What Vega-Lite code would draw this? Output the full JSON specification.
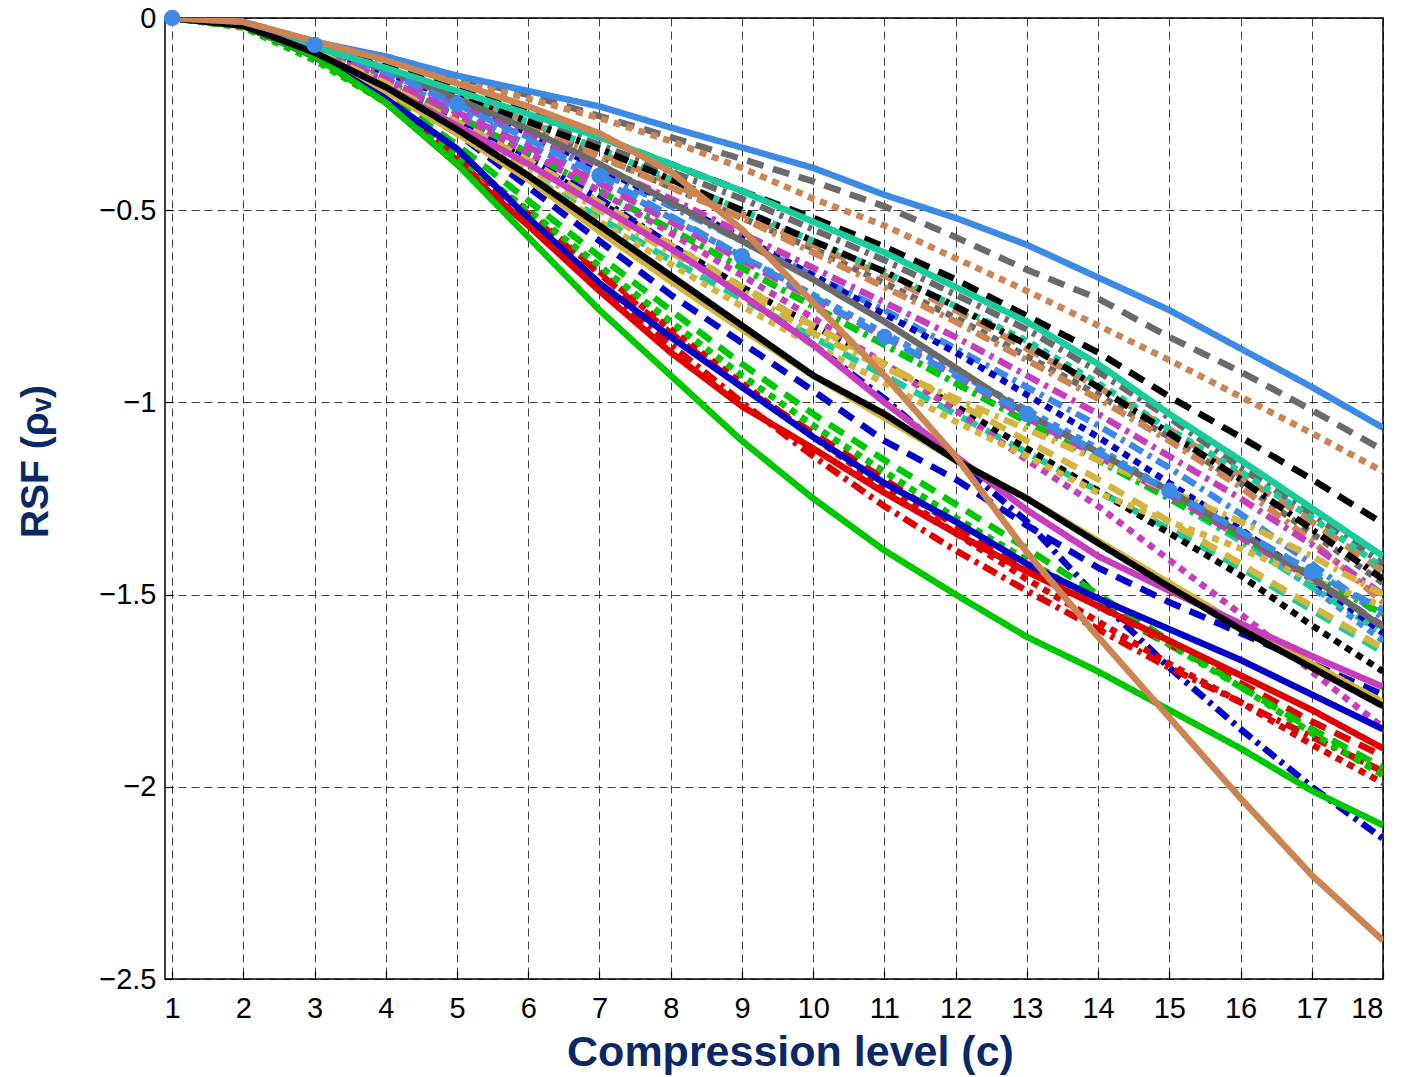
{
"$schema":"https://vega.github.io/schema/vega-lite/v6.json",
"width":1218,"height":961,
"autosize":{"type":"none"},
"padding":{"left":165,"top":18,"right":22,"bottom":98},
"background":"white",
"data":{"values":[
{"g":"m1","k":"c","c":1,"v":0},{"g":"m1","k":"c","c":2,"v":-0.02},{"g":"m1","k":"c","c":3,"v":-0.08},{"g":"m1","k":"c","c":4,"v":-0.155},{"g":"m1","k":"c","c":5,"v":-0.24},{"g":"m1","k":"c","c":6,"v":-0.33},{"g":"m1","k":"c","c":7,"v":-0.42},{"g":"m1","k":"c","c":8,"v":-0.52},{"g":"m1","k":"c","c":9,"v":-0.62},{"g":"m1","k":"c","c":10,"v":-0.72},{"g":"m1","k":"c","c":11,"v":-0.82},{"g":"m1","k":"c","c":12,"v":-0.92},{"g":"m1","k":"c","c":13,"v":-1.02},{"g":"m1","k":"c","c":14,"v":-1.12},{"g":"m1","k":"c","c":15,"v":-1.23},{"g":"m1","k":"c","c":16,"v":-1.35},{"g":"m1","k":"c","c":17,"v":-1.48},{"g":"m1","k":"c","c":18,"v":-1.62},
{"g":"m1","k":"d","c":1,"v":0},{"g":"m1","k":"d","c":2,"v":-0.015},{"g":"m1","k":"d","c":3,"v":-0.075},{"g":"m1","k":"d","c":4,"v":-0.145},{"g":"m1","k":"d","c":5,"v":-0.225},{"g":"m1","k":"d","c":6,"v":-0.31},{"g":"m1","k":"d","c":7,"v":-0.4},{"g":"m1","k":"d","c":8,"v":-0.49},{"g":"m1","k":"d","c":9,"v":-0.58},{"g":"m1","k":"d","c":10,"v":-0.67},{"g":"m1","k":"d","c":11,"v":-0.76},{"g":"m1","k":"d","c":12,"v":-0.86},{"g":"m1","k":"d","c":13,"v":-0.96},{"g":"m1","k":"d","c":14,"v":-1.06},{"g":"m1","k":"d","c":15,"v":-1.17},{"g":"m1","k":"d","c":16,"v":-1.29},{"g":"m1","k":"d","c":17,"v":-1.42},{"g":"m1","k":"d","c":18,"v":-1.56},
{"g":"m2","k":"b","c":1,"v":0},{"g":"m2","k":"b","c":2,"v":-0.012},{"g":"m2","k":"b","c":3,"v":-0.065},{"g":"m2","k":"b","c":4,"v":-0.105},{"g":"m2","k":"b","c":5,"v":-0.155},{"g":"m2","k":"b","c":6,"v":-0.2},{"g":"m2","k":"b","c":7,"v":-0.255},{"g":"m2","k":"b","c":8,"v":-0.31},{"g":"m2","k":"b","c":9,"v":-0.367},{"g":"m2","k":"b","c":10,"v":-0.425},{"g":"m2","k":"b","c":11,"v":-0.49},{"g":"m2","k":"b","c":12,"v":-0.57},{"g":"m2","k":"b","c":13,"v":-0.655},{"g":"m2","k":"b","c":14,"v":-0.73},{"g":"m2","k":"b","c":15,"v":-0.83},{"g":"m2","k":"b","c":16,"v":-0.92},{"g":"m2","k":"b","c":17,"v":-1.02},{"g":"m2","k":"b","c":18,"v":-1.124},
{"g":"m2","k":"c","c":1,"v":0},{"g":"m2","k":"c","c":2,"v":-0.015},{"g":"m2","k":"c","c":3,"v":-0.08},{"g":"m2","k":"c","c":4,"v":-0.14},{"g":"m2","k":"c","c":5,"v":-0.21},{"g":"m2","k":"c","c":6,"v":-0.28},{"g":"m2","k":"c","c":7,"v":-0.36},{"g":"m2","k":"c","c":8,"v":-0.44},{"g":"m2","k":"c","c":9,"v":-0.52},{"g":"m2","k":"c","c":10,"v":-0.6},{"g":"m2","k":"c","c":11,"v":-0.69},{"g":"m2","k":"c","c":12,"v":-0.78},{"g":"m2","k":"c","c":13,"v":-0.88},{"g":"m2","k":"c","c":14,"v":-0.98},{"g":"m2","k":"c","c":15,"v":-1.09},{"g":"m2","k":"c","c":16,"v":-1.21},{"g":"m2","k":"c","c":17,"v":-1.34},{"g":"m2","k":"c","c":18,"v":-1.47},
{"g":"m2","k":"d","c":1,"v":0},{"g":"m2","k":"d","c":2,"v":-0.015},{"g":"m2","k":"d","c":3,"v":-0.075},{"g":"m2","k":"d","c":4,"v":-0.13},{"g":"m2","k":"d","c":5,"v":-0.2},{"g":"m2","k":"d","c":6,"v":-0.26},{"g":"m2","k":"d","c":7,"v":-0.33},{"g":"m2","k":"d","c":8,"v":-0.4},{"g":"m2","k":"d","c":9,"v":-0.47},{"g":"m2","k":"d","c":10,"v":-0.55},{"g":"m2","k":"d","c":11,"v":-0.63},{"g":"m2","k":"d","c":12,"v":-0.72},{"g":"m2","k":"d","c":13,"v":-0.81},{"g":"m2","k":"d","c":14,"v":-0.92},{"g":"m2","k":"d","c":15,"v":-1.04},{"g":"m2","k":"d","c":16,"v":-1.17},{"g":"m2","k":"d","c":17,"v":-1.29},{"g":"m2","k":"d","c":18,"v":-1.42},
{"g":"m3","k":"b","c":1,"v":0},{"g":"m3","k":"b","c":2,"v":-0.015},{"g":"m3","k":"b","c":3,"v":-0.075},{"g":"m3","k":"b","c":4,"v":-0.135},{"g":"m3","k":"b","c":5,"v":-0.2},{"g":"m3","k":"b","c":6,"v":-0.27},{"g":"m3","k":"b","c":7,"v":-0.35},{"g":"m3","k":"b","c":8,"v":-0.43},{"g":"m3","k":"b","c":9,"v":-0.51},{"g":"m3","k":"b","c":10,"v":-0.59},{"g":"m3","k":"b","c":11,"v":-0.67},{"g":"m3","k":"b","c":12,"v":-0.76},{"g":"m3","k":"b","c":13,"v":-0.86},{"g":"m3","k":"b","c":14,"v":-0.96},{"g":"m3","k":"b","c":15,"v":-1.07},{"g":"m3","k":"b","c":16,"v":-1.19},{"g":"m3","k":"b","c":17,"v":-1.31},{"g":"m3","k":"b","c":18,"v":-1.44},
{"g":"m3","k":"c","c":1,"v":0},{"g":"m3","k":"c","c":2,"v":-0.012},{"g":"m3","k":"c","c":3,"v":-0.065},{"g":"m3","k":"c","c":4,"v":-0.11},{"g":"m3","k":"c","c":5,"v":-0.16},{"g":"m3","k":"c","c":6,"v":-0.21},{"g":"m3","k":"c","c":7,"v":-0.26},{"g":"m3","k":"c","c":8,"v":-0.32},{"g":"m3","k":"c","c":9,"v":-0.39},{"g":"m3","k":"c","c":10,"v":-0.47},{"g":"m3","k":"c","c":11,"v":-0.54},{"g":"m3","k":"c","c":12,"v":-0.625},{"g":"m3","k":"c","c":13,"v":-0.71},{"g":"m3","k":"c","c":14,"v":-0.8},{"g":"m3","k":"c","c":15,"v":-0.89},{"g":"m3","k":"c","c":16,"v":-0.985},{"g":"m3","k":"c","c":17,"v":-1.08},{"g":"m3","k":"c","c":18,"v":-1.18},
{"g":"m3","k":"d","c":1,"v":0},{"g":"m3","k":"d","c":2,"v":-0.015},{"g":"m3","k":"d","c":3,"v":-0.08},{"g":"m3","k":"d","c":4,"v":-0.14},{"g":"m3","k":"d","c":5,"v":-0.21},{"g":"m3","k":"d","c":6,"v":-0.28},{"g":"m3","k":"d","c":7,"v":-0.36},{"g":"m3","k":"d","c":8,"v":-0.44},{"g":"m3","k":"d","c":9,"v":-0.52},{"g":"m3","k":"d","c":10,"v":-0.61},{"g":"m3","k":"d","c":11,"v":-0.7},{"g":"m3","k":"d","c":12,"v":-0.79},{"g":"m3","k":"d","c":13,"v":-0.89},{"g":"m3","k":"d","c":14,"v":-0.99},{"g":"m3","k":"d","c":15,"v":-1.1},{"g":"m3","k":"d","c":16,"v":-1.22},{"g":"m3","k":"d","c":17,"v":-1.36},{"g":"m3","k":"d","c":18,"v":-1.52},
{"g":"m4","k":"b","c":1,"v":0},{"g":"m4","k":"b","c":2,"v":-0.02},{"g":"m4","k":"b","c":3,"v":-0.09},{"g":"m4","k":"b","c":4,"v":-0.19},{"g":"m4","k":"b","c":5,"v":-0.3},{"g":"m4","k":"b","c":6,"v":-0.41},{"g":"m4","k":"b","c":7,"v":-0.52},{"g":"m4","k":"b","c":8,"v":-0.63},{"g":"m4","k":"b","c":9,"v":-0.73},{"g":"m4","k":"b","c":10,"v":-0.83},{"g":"m4","k":"b","c":11,"v":-0.93},{"g":"m4","k":"b","c":12,"v":-1.03},{"g":"m4","k":"b","c":13,"v":-1.13},{"g":"m4","k":"b","c":14,"v":-1.23},{"g":"m4","k":"b","c":15,"v":-1.33},{"g":"m4","k":"b","c":16,"v":-1.43},{"g":"m4","k":"b","c":17,"v":-1.54},{"g":"m4","k":"b","c":18,"v":-1.65},
{"g":"m4","k":"c","c":1,"v":0},{"g":"m4","k":"c","c":2,"v":-0.015},{"g":"m4","k":"c","c":3,"v":-0.075},{"g":"m4","k":"c","c":4,"v":-0.135},{"g":"m4","k":"c","c":5,"v":-0.2},{"g":"m4","k":"c","c":6,"v":-0.27},{"g":"m4","k":"c","c":7,"v":-0.34},{"g":"m4","k":"c","c":8,"v":-0.42},{"g":"m4","k":"c","c":9,"v":-0.5},{"g":"m4","k":"c","c":10,"v":-0.58},{"g":"m4","k":"c","c":11,"v":-0.66},{"g":"m4","k":"c","c":12,"v":-0.75},{"g":"m4","k":"c","c":13,"v":-0.84},{"g":"m4","k":"c","c":14,"v":-0.95},{"g":"m4","k":"c","c":15,"v":-1.07},{"g":"m4","k":"c","c":16,"v":-1.18},{"g":"m4","k":"c","c":17,"v":-1.3},{"g":"m4","k":"c","c":18,"v":-1.43},
{"g":"m4","k":"d","c":1,"v":0},{"g":"m4","k":"d","c":2,"v":-0.02},{"g":"m4","k":"d","c":3,"v":-0.085},{"g":"m4","k":"d","c":4,"v":-0.165},{"g":"m4","k":"d","c":5,"v":-0.255},{"g":"m4","k":"d","c":6,"v":-0.35},{"g":"m4","k":"d","c":7,"v":-0.45},{"g":"m4","k":"d","c":8,"v":-0.55},{"g":"m4","k":"d","c":9,"v":-0.65},{"g":"m4","k":"d","c":10,"v":-0.75},{"g":"m4","k":"d","c":11,"v":-0.85},{"g":"m4","k":"d","c":12,"v":-0.95},{"g":"m4","k":"d","c":13,"v":-1.05},{"g":"m4","k":"d","c":14,"v":-1.15},{"g":"m4","k":"d","c":15,"v":-1.25},{"g":"m4","k":"d","c":16,"v":-1.36},{"g":"m4","k":"d","c":17,"v":-1.48},{"g":"m4","k":"d","c":18,"v":-1.6},
{"g":"m5","k":"b","c":1,"v":0},{"g":"m5","k":"b","c":2,"v":-0.015},{"g":"m5","k":"b","c":3,"v":-0.07},{"g":"m5","k":"b","c":4,"v":-0.12},{"g":"m5","k":"b","c":5,"v":-0.18},{"g":"m5","k":"b","c":6,"v":-0.24},{"g":"m5","k":"b","c":7,"v":-0.31},{"g":"m5","k":"b","c":8,"v":-0.38},{"g":"m5","k":"b","c":9,"v":-0.45},{"g":"m5","k":"b","c":10,"v":-0.52},{"g":"m5","k":"b","c":11,"v":-0.595},{"g":"m5","k":"b","c":12,"v":-0.68},{"g":"m5","k":"b","c":13,"v":-0.775},{"g":"m5","k":"b","c":14,"v":-0.87},{"g":"m5","k":"b","c":15,"v":-0.985},{"g":"m5","k":"b","c":16,"v":-1.09},{"g":"m5","k":"b","c":17,"v":-1.2},{"g":"m5","k":"b","c":18,"v":-1.315},
{"g":"m5","k":"c","c":1,"v":0},{"g":"m5","k":"c","c":2,"v":-0.02},{"g":"m5","k":"c","c":3,"v":-0.09},{"g":"m5","k":"c","c":4,"v":-0.17},{"g":"m5","k":"c","c":5,"v":-0.265},{"g":"m5","k":"c","c":6,"v":-0.37},{"g":"m5","k":"c","c":7,"v":-0.48},{"g":"m5","k":"c","c":8,"v":-0.59},{"g":"m5","k":"c","c":9,"v":-0.7},{"g":"m5","k":"c","c":10,"v":-0.8},{"g":"m5","k":"c","c":11,"v":-0.9},{"g":"m5","k":"c","c":12,"v":-1.01},{"g":"m5","k":"c","c":13,"v":-1.12},{"g":"m5","k":"c","c":14,"v":-1.23},{"g":"m5","k":"c","c":15,"v":-1.34},{"g":"m5","k":"c","c":16,"v":-1.45},{"g":"m5","k":"c","c":17,"v":-1.58},{"g":"m5","k":"c","c":18,"v":-1.7},
{"g":"m5","k":"d","c":1,"v":0},{"g":"m5","k":"d","c":2,"v":-0.015},{"g":"m5","k":"d","c":3,"v":-0.075},{"g":"m5","k":"d","c":4,"v":-0.135},{"g":"m5","k":"d","c":5,"v":-0.2},{"g":"m5","k":"d","c":6,"v":-0.27},{"g":"m5","k":"d","c":7,"v":-0.34},{"g":"m5","k":"d","c":8,"v":-0.42},{"g":"m5","k":"d","c":9,"v":-0.5},{"g":"m5","k":"d","c":10,"v":-0.58},{"g":"m5","k":"d","c":11,"v":-0.66},{"g":"m5","k":"d","c":12,"v":-0.75},{"g":"m5","k":"d","c":13,"v":-0.85},{"g":"m5","k":"d","c":14,"v":-0.96},{"g":"m5","k":"d","c":15,"v":-1.08},{"g":"m5","k":"d","c":16,"v":-1.2},{"g":"m5","k":"d","c":17,"v":-1.33},{"g":"m5","k":"d","c":18,"v":-1.46},
{"g":"m6","k":"b","c":1,"v":0},{"g":"m6","k":"b","c":2,"v":-0.02},{"g":"m6","k":"b","c":3,"v":-0.095},{"g":"m6","k":"b","c":4,"v":-0.19},{"g":"m6","k":"b","c":5,"v":-0.3},{"g":"m6","k":"b","c":6,"v":-0.44},{"g":"m6","k":"b","c":7,"v":-0.58},{"g":"m6","k":"b","c":8,"v":-0.72},{"g":"m6","k":"b","c":9,"v":-0.845},{"g":"m6","k":"b","c":10,"v":-0.97},{"g":"m6","k":"b","c":11,"v":-1.1},{"g":"m6","k":"b","c":12,"v":-1.2},{"g":"m6","k":"b","c":13,"v":-1.32},{"g":"m6","k":"b","c":14,"v":-1.43},{"g":"m6","k":"b","c":15,"v":-1.52},{"g":"m6","k":"b","c":16,"v":-1.6},{"g":"m6","k":"b","c":17,"v":-1.68},{"g":"m6","k":"b","c":18,"v":-1.76},
{"g":"m6","k":"c","c":1,"v":0},{"g":"m6","k":"c","c":2,"v":-0.015},{"g":"m6","k":"c","c":3,"v":-0.075},{"g":"m6","k":"c","c":4,"v":-0.14},{"g":"m6","k":"c","c":5,"v":-0.215},{"g":"m6","k":"c","c":6,"v":-0.3},{"g":"m6","k":"c","c":7,"v":-0.39},{"g":"m6","k":"c","c":8,"v":-0.48},{"g":"m6","k":"c","c":9,"v":-0.57},{"g":"m6","k":"c","c":10,"v":-0.67},{"g":"m6","k":"c","c":11,"v":-0.77},{"g":"m6","k":"c","c":12,"v":-0.87},{"g":"m6","k":"c","c":13,"v":-0.98},{"g":"m6","k":"c","c":14,"v":-1.09},{"g":"m6","k":"c","c":15,"v":-1.21},{"g":"m6","k":"c","c":16,"v":-1.33},{"g":"m6","k":"c","c":17,"v":-1.46},{"g":"m6","k":"c","c":18,"v":-1.6},
{"g":"m6","k":"d","c":1,"v":0},{"g":"m6","k":"d","c":2,"v":-0.02},{"g":"m6","k":"d","c":3,"v":-0.09},{"g":"m6","k":"d","c":4,"v":-0.17},{"g":"m6","k":"d","c":5,"v":-0.26},{"g":"m6","k":"d","c":6,"v":-0.36},{"g":"m6","k":"d","c":7,"v":-0.47},{"g":"m6","k":"d","c":8,"v":-0.59},{"g":"m6","k":"d","c":9,"v":-0.72},{"g":"m6","k":"d","c":10,"v":-0.85},{"g":"m6","k":"d","c":11,"v":-0.99},{"g":"m6","k":"d","c":12,"v":-1.15},{"g":"m6","k":"d","c":13,"v":-1.31},{"g":"m6","k":"d","c":14,"v":-1.51},{"g":"m6","k":"d","c":15,"v":-1.69},{"g":"m6","k":"d","c":16,"v":-1.85},{"g":"m6","k":"d","c":17,"v":-2.0},{"g":"m6","k":"d","c":18,"v":-2.135},
{"g":"m7","k":"b","c":1,"v":0},{"g":"m7","k":"b","c":2,"v":-0.02},{"g":"m7","k":"b","c":3,"v":-0.1},{"g":"m7","k":"b","c":4,"v":-0.21},{"g":"m7","k":"b","c":5,"v":-0.36},{"g":"m7","k":"b","c":6,"v":-0.51},{"g":"m7","k":"b","c":7,"v":-0.665},{"g":"m7","k":"b","c":8,"v":-0.82},{"g":"m7","k":"b","c":9,"v":-0.96},{"g":"m7","k":"b","c":10,"v":-1.08},{"g":"m7","k":"b","c":11,"v":-1.2},{"g":"m7","k":"b","c":12,"v":-1.32},{"g":"m7","k":"b","c":13,"v":-1.43},{"g":"m7","k":"b","c":14,"v":-1.53},{"g":"m7","k":"b","c":15,"v":-1.63},{"g":"m7","k":"b","c":16,"v":-1.73},{"g":"m7","k":"b","c":17,"v":-1.83},{"g":"m7","k":"b","c":18,"v":-1.92},
{"g":"m7","k":"c","c":1,"v":0},{"g":"m7","k":"c","c":2,"v":-0.02},{"g":"m7","k":"c","c":3,"v":-0.1},{"g":"m7","k":"c","c":4,"v":-0.21},{"g":"m7","k":"c","c":5,"v":-0.355},{"g":"m7","k":"c","c":6,"v":-0.505},{"g":"m7","k":"c","c":7,"v":-0.66},{"g":"m7","k":"c","c":8,"v":-0.81},{"g":"m7","k":"c","c":9,"v":-0.95},{"g":"m7","k":"c","c":10,"v":-1.09},{"g":"m7","k":"c","c":11,"v":-1.22},{"g":"m7","k":"c","c":12,"v":-1.34},{"g":"m7","k":"c","c":13,"v":-1.46},{"g":"m7","k":"c","c":14,"v":-1.57},{"g":"m7","k":"c","c":15,"v":-1.68},{"g":"m7","k":"c","c":16,"v":-1.78},{"g":"m7","k":"c","c":17,"v":-1.89},{"g":"m7","k":"c","c":18,"v":-1.99},
{"g":"m7","k":"d","c":1,"v":0},{"g":"m7","k":"d","c":2,"v":-0.02},{"g":"m7","k":"d","c":3,"v":-0.1},{"g":"m7","k":"d","c":4,"v":-0.215},{"g":"m7","k":"d","c":5,"v":-0.37},{"g":"m7","k":"d","c":6,"v":-0.53},{"g":"m7","k":"d","c":7,"v":-0.69},{"g":"m7","k":"d","c":8,"v":-0.85},{"g":"m7","k":"d","c":9,"v":-1.0},{"g":"m7","k":"d","c":10,"v":-1.14},{"g":"m7","k":"d","c":11,"v":-1.27},{"g":"m7","k":"d","c":12,"v":-1.385},{"g":"m7","k":"d","c":13,"v":-1.49},{"g":"m7","k":"d","c":14,"v":-1.59},{"g":"m7","k":"d","c":15,"v":-1.69},{"g":"m7","k":"d","c":16,"v":-1.78},{"g":"m7","k":"d","c":17,"v":-1.87},{"g":"m7","k":"d","c":18,"v":-1.96},
{"g":"m8","k":"b","c":1,"v":0},{"g":"m8","k":"b","c":2,"v":-0.02},{"g":"m8","k":"b","c":3,"v":-0.095},{"g":"m8","k":"b","c":4,"v":-0.2},{"g":"m8","k":"b","c":5,"v":-0.33},{"g":"m8","k":"b","c":6,"v":-0.475},{"g":"m8","k":"b","c":7,"v":-0.62},{"g":"m8","k":"b","c":8,"v":-0.76},{"g":"m8","k":"b","c":9,"v":-0.9},{"g":"m8","k":"b","c":10,"v":-1.03},{"g":"m8","k":"b","c":11,"v":-1.15},{"g":"m8","k":"b","c":12,"v":-1.265},{"g":"m8","k":"b","c":13,"v":-1.38},{"g":"m8","k":"b","c":14,"v":-1.5},{"g":"m8","k":"b","c":15,"v":-1.62},{"g":"m8","k":"b","c":16,"v":-1.74},{"g":"m8","k":"b","c":17,"v":-1.85},{"g":"m8","k":"b","c":18,"v":-1.95},
{"g":"m8","k":"c","c":1,"v":0},{"g":"m8","k":"c","c":2,"v":-0.025},{"g":"m8","k":"c","c":3,"v":-0.11},{"g":"m8","k":"c","c":4,"v":-0.22},{"g":"m8","k":"c","c":5,"v":-0.36},{"g":"m8","k":"c","c":6,"v":-0.5},{"g":"m8","k":"c","c":7,"v":-0.645},{"g":"m8","k":"c","c":8,"v":-0.79},{"g":"m8","k":"c","c":9,"v":-0.93},{"g":"m8","k":"c","c":10,"v":-1.06},{"g":"m8","k":"c","c":11,"v":-1.18},{"g":"m8","k":"c","c":12,"v":-1.3},{"g":"m8","k":"c","c":13,"v":-1.41},{"g":"m8","k":"c","c":14,"v":-1.52},{"g":"m8","k":"c","c":15,"v":-1.63},{"g":"m8","k":"c","c":16,"v":-1.74},{"g":"m8","k":"c","c":17,"v":-1.86},{"g":"m8","k":"c","c":18,"v":-1.97},
{"g":"m8","k":"d","c":1,"v":0},{"g":"m8","k":"d","c":2,"v":-0.02},{"g":"m8","k":"d","c":3,"v":-0.085},{"g":"m8","k":"d","c":4,"v":-0.165},{"g":"m8","k":"d","c":5,"v":-0.255},{"g":"m8","k":"d","c":6,"v":-0.35},{"g":"m8","k":"d","c":7,"v":-0.45},{"g":"m8","k":"d","c":8,"v":-0.55},{"g":"m8","k":"d","c":9,"v":-0.65},{"g":"m8","k":"d","c":10,"v":-0.75},{"g":"m8","k":"d","c":11,"v":-0.85},{"g":"m8","k":"d","c":12,"v":-0.95},{"g":"m8","k":"d","c":13,"v":-1.05},{"g":"m8","k":"d","c":14,"v":-1.15},{"g":"m8","k":"d","c":15,"v":-1.25},{"g":"m8","k":"d","c":16,"v":-1.35},{"g":"m8","k":"d","c":17,"v":-1.45},{"g":"m8","k":"d","c":18,"v":-1.55},
{"g":"m9","k":"b","c":1,"v":0},{"g":"m9","k":"b","c":2,"v":-0.02},{"g":"m9","k":"b","c":3,"v":-0.085},{"g":"m9","k":"b","c":4,"v":-0.16},{"g":"m9","k":"b","c":5,"v":-0.245},{"g":"m9","k":"b","c":6,"v":-0.335},{"g":"m9","k":"b","c":7,"v":-0.43},{"g":"m9","k":"b","c":8,"v":-0.53},{"g":"m9","k":"b","c":9,"v":-0.63},{"g":"m9","k":"b","c":10,"v":-0.73},{"g":"m9","k":"b","c":11,"v":-0.83},{"g":"m9","k":"b","c":12,"v":-0.93},{"g":"m9","k":"b","c":13,"v":-1.04},{"g":"m9","k":"b","c":14,"v":-1.14},{"g":"m9","k":"b","c":15,"v":-1.24},{"g":"m9","k":"b","c":16,"v":-1.35},{"g":"m9","k":"b","c":17,"v":-1.46},{"g":"m9","k":"b","c":18,"v":-1.58},
{"g":"m9","k":"c","c":1,"v":0},{"g":"m9","k":"c","c":2,"v":-0.02},{"g":"m9","k":"c","c":3,"v":-0.085},{"g":"m9","k":"c","c":4,"v":-0.165},{"g":"m9","k":"c","c":5,"v":-0.255},{"g":"m9","k":"c","c":6,"v":-0.35},{"g":"m9","k":"c","c":7,"v":-0.45},{"g":"m9","k":"c","c":8,"v":-0.56},{"g":"m9","k":"c","c":9,"v":-0.67},{"g":"m9","k":"c","c":10,"v":-0.78},{"g":"m9","k":"c","c":11,"v":-0.9},{"g":"m9","k":"c","c":12,"v":-1.02},{"g":"m9","k":"c","c":13,"v":-1.15},{"g":"m9","k":"c","c":14,"v":-1.27},{"g":"m9","k":"c","c":15,"v":-1.41},{"g":"m9","k":"c","c":16,"v":-1.55},{"g":"m9","k":"c","c":17,"v":-1.7},{"g":"m9","k":"c","c":18,"v":-1.845},
{"g":"m9","k":"d","c":1,"v":0},{"g":"m9","k":"d","c":2,"v":-0.015},{"g":"m9","k":"d","c":3,"v":-0.08},{"g":"m9","k":"d","c":4,"v":-0.145},{"g":"m9","k":"d","c":5,"v":-0.22},{"g":"m9","k":"d","c":6,"v":-0.3},{"g":"m9","k":"d","c":7,"v":-0.385},{"g":"m9","k":"d","c":8,"v":-0.47},{"g":"m9","k":"d","c":9,"v":-0.56},{"g":"m9","k":"d","c":10,"v":-0.65},{"g":"m9","k":"d","c":11,"v":-0.74},{"g":"m9","k":"d","c":12,"v":-0.83},{"g":"m9","k":"d","c":13,"v":-0.93},{"g":"m9","k":"d","c":14,"v":-1.03},{"g":"m9","k":"d","c":15,"v":-1.14},{"g":"m9","k":"d","c":16,"v":-1.25},{"g":"m9","k":"d","c":17,"v":-1.37},{"g":"m9","k":"d","c":18,"v":-1.5},
{"g":"m10","k":"b","c":1,"v":0},{"g":"m10","k":"b","c":2,"v":-0.02},{"g":"m10","k":"b","c":3,"v":-0.09},{"g":"m10","k":"b","c":4,"v":-0.175},{"g":"m10","k":"b","c":5,"v":-0.27},{"g":"m10","k":"b","c":6,"v":-0.37},{"g":"m10","k":"b","c":7,"v":-0.48},{"g":"m10","k":"b","c":8,"v":-0.59},{"g":"m10","k":"b","c":9,"v":-0.7},{"g":"m10","k":"b","c":10,"v":-0.8},{"g":"m10","k":"b","c":11,"v":-0.9},{"g":"m10","k":"b","c":12,"v":-1.0},{"g":"m10","k":"b","c":13,"v":-1.1},{"g":"m10","k":"b","c":14,"v":-1.2},{"g":"m10","k":"b","c":15,"v":-1.31},{"g":"m10","k":"b","c":16,"v":-1.42},{"g":"m10","k":"b","c":17,"v":-1.53},{"g":"m10","k":"b","c":18,"v":-1.64},
{"g":"m10","k":"c","c":1,"v":0},{"g":"m10","k":"c","c":2,"v":-0.02},{"g":"m10","k":"c","c":3,"v":-0.09},{"g":"m10","k":"c","c":4,"v":-0.18},{"g":"m10","k":"c","c":5,"v":-0.29},{"g":"m10","k":"c","c":6,"v":-0.41},{"g":"m10","k":"c","c":7,"v":-0.53},{"g":"m10","k":"c","c":8,"v":-0.64},{"g":"m10","k":"c","c":9,"v":-0.75},{"g":"m10","k":"c","c":10,"v":-0.85},{"g":"m10","k":"c","c":11,"v":-0.95},{"g":"m10","k":"c","c":12,"v":-1.05},{"g":"m10","k":"c","c":13,"v":-1.14},{"g":"m10","k":"c","c":14,"v":-1.235},{"g":"m10","k":"c","c":15,"v":-1.31},{"g":"m10","k":"c","c":16,"v":-1.38},{"g":"m10","k":"c","c":17,"v":-1.46},{"g":"m10","k":"c","c":18,"v":-1.53},
{"g":"m10","k":"d","c":1,"v":0},{"g":"m10","k":"d","c":2,"v":-0.02},{"g":"m10","k":"d","c":3,"v":-0.085},{"g":"m10","k":"d","c":4,"v":-0.17},{"g":"m10","k":"d","c":5,"v":-0.28},{"g":"m10","k":"d","c":6,"v":-0.39},{"g":"m10","k":"d","c":7,"v":-0.5},{"g":"m10","k":"d","c":8,"v":-0.61},{"g":"m10","k":"d","c":9,"v":-0.71},{"g":"m10","k":"d","c":10,"v":-0.82},{"g":"m10","k":"d","c":11,"v":-0.91},{"g":"m10","k":"d","c":12,"v":-0.99},{"g":"m10","k":"d","c":13,"v":-1.07},{"g":"m10","k":"d","c":14,"v":-1.15},{"g":"m10","k":"d","c":15,"v":-1.23},{"g":"m10","k":"d","c":16,"v":-1.31},{"g":"m10","k":"d","c":17,"v":-1.4},{"g":"m10","k":"d","c":18,"v":-1.5},
{"g":"m2","k":"a","c":1,"v":0},{"g":"m2","k":"a","c":2,"v":-0.015},{"g":"m2","k":"a","c":3,"v":-0.07},{"g":"m2","k":"a","c":4,"v":-0.135},{"g":"m2","k":"a","c":5,"v":-0.21},{"g":"m2","k":"a","c":6,"v":-0.29},{"g":"m2","k":"a","c":7,"v":-0.38},{"g":"m2","k":"a","c":8,"v":-0.48},{"g":"m2","k":"a","c":9,"v":-0.58},{"g":"m2","k":"a","c":10,"v":-0.68},{"g":"m2","k":"a","c":11,"v":-0.79},{"g":"m2","k":"a","c":12,"v":-0.91},{"g":"m2","k":"a","c":13,"v":-1.03},{"g":"m2","k":"a","c":14,"v":-1.13},{"g":"m2","k":"a","c":15,"v":-1.23},{"g":"m2","k":"a","c":16,"v":-1.34},{"g":"m2","k":"a","c":17,"v":-1.455},{"g":"m2","k":"a","c":18,"v":-1.585},
{"g":"m1","k":"b","c":1,"v":0},{"g":"m1","k":"b","c":2,"v":-0.015},{"g":"m1","k":"b","c":3,"v":-0.07},{"g":"m1","k":"b","c":4,"v":-0.14},{"g":"m1","k":"b","c":5,"v":-0.224},{"g":"m1","k":"b","c":6,"v":-0.315},{"g":"m1","k":"b","c":7,"v":-0.41},{"g":"m1","k":"b","c":8,"v":-0.515},{"g":"m1","k":"b","c":9,"v":-0.62},{"g":"m1","k":"b","c":10,"v":-0.725},{"g":"m1","k":"b","c":11,"v":-0.83},{"g":"m1","k":"b","c":12,"v":-0.93},{"g":"m1","k":"b","c":13,"v":-1.03},{"g":"m1","k":"b","c":14,"v":-1.13},{"g":"m1","k":"b","c":15,"v":-1.23},{"g":"m1","k":"b","c":16,"v":-1.335},{"g":"m1","k":"b","c":17,"v":-1.44},{"g":"m1","k":"b","c":18,"v":-1.54},
{"g":"m4","k":"a","c":1,"v":0},{"g":"m4","k":"a","c":2,"v":-0.015},{"g":"m4","k":"a","c":3,"v":-0.075},{"g":"m4","k":"a","c":4,"v":-0.13},{"g":"m4","k":"a","c":5,"v":-0.19},{"g":"m4","k":"a","c":6,"v":-0.25},{"g":"m4","k":"a","c":7,"v":-0.31},{"g":"m4","k":"a","c":8,"v":-0.38},{"g":"m4","k":"a","c":9,"v":-0.45},{"g":"m4","k":"a","c":10,"v":-0.53},{"g":"m4","k":"a","c":11,"v":-0.61},{"g":"m4","k":"a","c":12,"v":-0.7},{"g":"m4","k":"a","c":13,"v":-0.79},{"g":"m4","k":"a","c":14,"v":-0.9},{"g":"m4","k":"a","c":15,"v":-1.03},{"g":"m4","k":"a","c":16,"v":-1.15},{"g":"m4","k":"a","c":17,"v":-1.275},{"g":"m4","k":"a","c":18,"v":-1.4},
{"g":"m10","k":"a","c":1,"v":0},{"g":"m10","k":"a","c":2,"v":-0.02},{"g":"m10","k":"a","c":3,"v":-0.095},{"g":"m10","k":"a","c":4,"v":-0.19},{"g":"m10","k":"a","c":5,"v":-0.3},{"g":"m10","k":"a","c":6,"v":-0.42},{"g":"m10","k":"a","c":7,"v":-0.555},{"g":"m10","k":"a","c":8,"v":-0.685},{"g":"m10","k":"a","c":9,"v":-0.81},{"g":"m10","k":"a","c":10,"v":-0.93},{"g":"m10","k":"a","c":11,"v":-1.04},{"g":"m10","k":"a","c":12,"v":-1.15},{"g":"m10","k":"a","c":13,"v":-1.25},{"g":"m10","k":"a","c":14,"v":-1.36},{"g":"m10","k":"a","c":15,"v":-1.47},{"g":"m10","k":"a","c":16,"v":-1.58},{"g":"m10","k":"a","c":17,"v":-1.68},{"g":"m10","k":"a","c":18,"v":-1.78},
{"g":"m9","k":"a","c":1,"v":0},{"g":"m9","k":"a","c":2,"v":-0.02},{"g":"m9","k":"a","c":3,"v":-0.09},{"g":"m9","k":"a","c":4,"v":-0.18},{"g":"m9","k":"a","c":5,"v":-0.28},{"g":"m9","k":"a","c":6,"v":-0.38},{"g":"m9","k":"a","c":7,"v":-0.49},{"g":"m9","k":"a","c":8,"v":-0.6},{"g":"m9","k":"a","c":9,"v":-0.72},{"g":"m9","k":"a","c":10,"v":-0.85},{"g":"m9","k":"a","c":11,"v":-1.0},{"g":"m9","k":"a","c":12,"v":-1.14},{"g":"m9","k":"a","c":13,"v":-1.28},{"g":"m9","k":"a","c":14,"v":-1.4},{"g":"m9","k":"a","c":15,"v":-1.49},{"g":"m9","k":"a","c":16,"v":-1.575},{"g":"m9","k":"a","c":17,"v":-1.66},{"g":"m9","k":"a","c":18,"v":-1.74},
{"g":"m6","k":"a","c":1,"v":0},{"g":"m6","k":"a","c":2,"v":-0.02},{"g":"m6","k":"a","c":3,"v":-0.1},{"g":"m6","k":"a","c":4,"v":-0.21},{"g":"m6","k":"a","c":5,"v":-0.34},{"g":"m6","k":"a","c":6,"v":-0.52},{"g":"m6","k":"a","c":7,"v":-0.69},{"g":"m6","k":"a","c":8,"v":-0.83},{"g":"m6","k":"a","c":9,"v":-0.96},{"g":"m6","k":"a","c":10,"v":-1.09},{"g":"m6","k":"a","c":11,"v":-1.21},{"g":"m6","k":"a","c":12,"v":-1.31},{"g":"m6","k":"a","c":13,"v":-1.42},{"g":"m6","k":"a","c":14,"v":-1.51},{"g":"m6","k":"a","c":15,"v":-1.59},{"g":"m6","k":"a","c":16,"v":-1.67},{"g":"m6","k":"a","c":17,"v":-1.76},{"g":"m6","k":"a","c":18,"v":-1.85},
{"g":"m7","k":"a","c":1,"v":0},{"g":"m7","k":"a","c":2,"v":-0.02},{"g":"m7","k":"a","c":3,"v":-0.1},{"g":"m7","k":"a","c":4,"v":-0.22},{"g":"m7","k":"a","c":5,"v":-0.38},{"g":"m7","k":"a","c":6,"v":-0.54},{"g":"m7","k":"a","c":7,"v":-0.71},{"g":"m7","k":"a","c":8,"v":-0.87},{"g":"m7","k":"a","c":9,"v":-1.01},{"g":"m7","k":"a","c":10,"v":-1.12},{"g":"m7","k":"a","c":11,"v":-1.235},{"g":"m7","k":"a","c":12,"v":-1.34},{"g":"m7","k":"a","c":13,"v":-1.44},{"g":"m7","k":"a","c":14,"v":-1.53},{"g":"m7","k":"a","c":15,"v":-1.62},{"g":"m7","k":"a","c":16,"v":-1.71},{"g":"m7","k":"a","c":17,"v":-1.8},{"g":"m7","k":"a","c":18,"v":-1.9},
{"g":"m8","k":"a","c":1,"v":0},{"g":"m8","k":"a","c":2,"v":-0.02},{"g":"m8","k":"a","c":3,"v":-0.1},{"g":"m8","k":"a","c":4,"v":-0.22},{"g":"m8","k":"a","c":5,"v":-0.38},{"g":"m8","k":"a","c":6,"v":-0.57},{"g":"m8","k":"a","c":7,"v":-0.76},{"g":"m8","k":"a","c":8,"v":-0.93},{"g":"m8","k":"a","c":9,"v":-1.1},{"g":"m8","k":"a","c":10,"v":-1.25},{"g":"m8","k":"a","c":11,"v":-1.385},{"g":"m8","k":"a","c":12,"v":-1.5},{"g":"m8","k":"a","c":13,"v":-1.61},{"g":"m8","k":"a","c":14,"v":-1.7},{"g":"m8","k":"a","c":15,"v":-1.8},{"g":"m8","k":"a","c":16,"v":-1.9},{"g":"m8","k":"a","c":17,"v":-2.01},{"g":"m8","k":"a","c":18,"v":-2.1},
{"g":"m5","k":"a","c":1,"v":0},{"g":"m5","k":"a","c":2,"v":-0.02},{"g":"m5","k":"a","c":3,"v":-0.09},{"g":"m5","k":"a","c":4,"v":-0.18},{"g":"m5","k":"a","c":5,"v":-0.29},{"g":"m5","k":"a","c":6,"v":-0.41},{"g":"m5","k":"a","c":7,"v":-0.54},{"g":"m5","k":"a","c":8,"v":-0.67},{"g":"m5","k":"a","c":9,"v":-0.8},{"g":"m5","k":"a","c":10,"v":-0.93},{"g":"m5","k":"a","c":11,"v":-1.03},{"g":"m5","k":"a","c":12,"v":-1.15},{"g":"m5","k":"a","c":13,"v":-1.25},{"g":"m5","k":"a","c":14,"v":-1.366},{"g":"m5","k":"a","c":15,"v":-1.48},{"g":"m5","k":"a","c":16,"v":-1.59},{"g":"m5","k":"a","c":17,"v":-1.69},{"g":"m5","k":"a","c":18,"v":-1.79},
{"g":"m1","k":"a","c":1,"v":0},{"g":"m1","k":"a","c":2,"v":-0.01},{"g":"m1","k":"a","c":3,"v":-0.062},{"g":"m1","k":"a","c":4,"v":-0.1},{"g":"m1","k":"a","c":5,"v":-0.15},{"g":"m1","k":"a","c":6,"v":-0.19},{"g":"m1","k":"a","c":7,"v":-0.23},{"g":"m1","k":"a","c":8,"v":-0.285},{"g":"m1","k":"a","c":9,"v":-0.337},{"g":"m1","k":"a","c":10,"v":-0.39},{"g":"m1","k":"a","c":11,"v":-0.46},{"g":"m1","k":"a","c":12,"v":-0.52},{"g":"m1","k":"a","c":13,"v":-0.59},{"g":"m1","k":"a","c":14,"v":-0.675},{"g":"m1","k":"a","c":15,"v":-0.76},{"g":"m1","k":"a","c":16,"v":-0.86},{"g":"m1","k":"a","c":17,"v":-0.96},{"g":"m1","k":"a","c":18,"v":-1.066},
{"g":"m3","k":"a","c":1,"v":0},{"g":"m3","k":"a","c":2,"v":-0.01},{"g":"m3","k":"a","c":3,"v":-0.06},{"g":"m3","k":"a","c":4,"v":-0.11},{"g":"m3","k":"a","c":5,"v":-0.17},{"g":"m3","k":"a","c":6,"v":-0.23},{"g":"m3","k":"a","c":7,"v":-0.3},{"g":"m3","k":"a","c":8,"v":-0.4},{"g":"m3","k":"a","c":9,"v":-0.55},{"g":"m3","k":"a","c":10,"v":-0.74},{"g":"m3","k":"a","c":11,"v":-0.93},{"g":"m3","k":"a","c":12,"v":-1.14},{"g":"m3","k":"a","c":13,"v":-1.39},{"g":"m3","k":"a","c":14,"v":-1.61},{"g":"m3","k":"a","c":15,"v":-1.82},{"g":"m3","k":"a","c":16,"v":-2.03},{"g":"m3","k":"a","c":17,"v":-2.23},{"g":"m3","k":"a","c":18,"v":-2.4}
]},
"encoding":{
"x":{"field":"c","type":"quantitative","scale":{"domain":[0.9,18],"nice":false,"zero":false},
"axis":{"values":[1,2,3,4,5,6,7,8,9,10,11,12,13,14,15,16,17,18],"format":"d","title":"Compression level (c)","titleX":625,"titleY":86,"titleBaseline":"alphabetic","titleAlign":"center","titleFontSize":43,"labelPadding":23,"labelFontSize":29}},
"y":{"field":"v","type":"quantitative","scale":{"domain":[-2.5,0],"nice":false,"zero":false},
"axis":{"values":[0,-0.5,-1,-1.5,-2,-2.5],"format":"~g","title":"RSF (ρᵥ)","titleX":-118,"titleY":443,"titleBaseline":"alphabetic","titleAlign":"center","titleAngle":-90,"titleFontSize":39,"labelPadding":17,"labelFontSize":29}}
},
"layer":[
{"mark":{"type":"line","strokeWidth":6.5,"strokeCap":"butt","strokeJoin":"round","clip":true},
"encoding":{
"color":{"field":"g","type":"nominal","legend":null,"scale":{"domain":["m1","m2","m3","m4","m5","m6","m7","m8","m9","m10"],"range":["#3d8ae6","#6a6a6a","#cc8552","#19cc9c","#000000","#0000c8","#e00000","#00c800","#c83cbe","#d4b43c"]}},
"strokeDash":{"field":"k","type":"nominal","legend":null,"scale":{"domain":["a","b","c","d"],"range":[[1,0],[17,10],[7,6],[15,6,4,6]]}}
}},
{"transform":[{"filter":{"and":[{"field":"g","equal":"m1"},{"field":"k","equal":"b"},{"field":"c","oneOf":[1,3,5,7,9,11,13,15,17]}]}}],
"mark":{"type":"circle","size":270,"opacity":1,"color":"#3d8ae6","clip":false},
"encoding":{}}
],
"config":{
"view":{"stroke":"#000","strokeWidth":1.5},
"font":"Liberation Sans",
"axis":{"domain":false,"grid":true,"gridColor":"#000","gridOpacity":0.75,"gridDash":[8,5],"gridWidth":1,"ticks":true,"tickSize":-8,"tickColor":"#000","tickWidth":1.2,"labelColor":"#000","labelFont":"Liberation Sans","titleFont":"Liberation Sans","titleFontWeight":"bold","titleColor":"#0b2866"}
}
}
